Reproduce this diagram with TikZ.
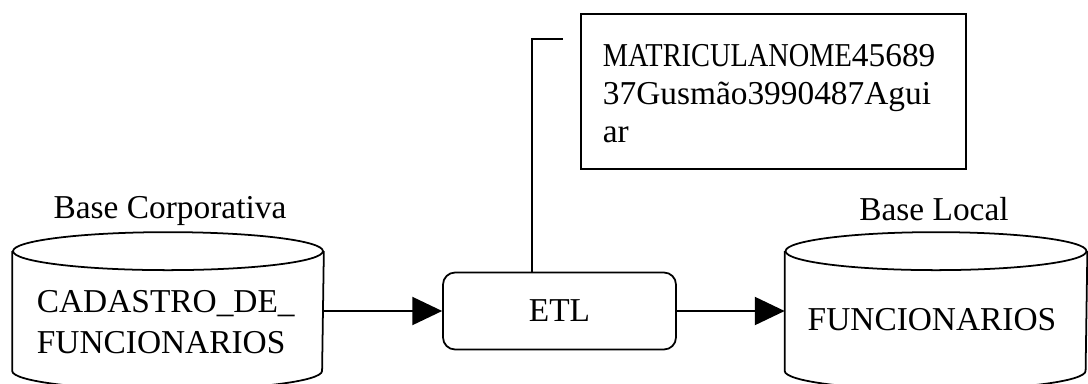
\documentclass[tikz,border=0pt]{standalone}
\usepackage{fontspec}
\setmainfont{Liberation Serif}
\usepackage{graphicx}
\usetikzlibrary{arrows.meta}
\usetikzlibrary{positioning}

\tikzset{
  dbbody/.style={draw=none, inner sep=0pt, minimum height=2.36cm},
  etlbox/.style={draw, line width=1pt, rounded corners=0.24cm, minimum width=4.66cm, minimum height=1.54cm, inner sep=0pt},
  regbox/.style={draw, line width=1pt, minimum width=7.7cm, minimum height=3.1cm, inner sep=0pt},
  flow/.style={line width=1pt, -{Triangle[length=17pt,width=16pt]}},
  bigtext/.style={font=\fontsize{19}{23.3}\selectfont, inner sep=0pt},
}

\begin{document}
\begin{tikzpicture}[x=0.02cm, y=0.02cm, line width=1pt]
    \useasboundingbox (0,0) rectangle (1088,383);

    % base corporativa
    \node [dbbody, minimum width=6.2cm] (corp) at (168,72) {};
    \draw (corp.north west) -- (corp.south west)
      arc [start angle=180, end angle=360, x radius=3.1cm, y radius=0.38cm]
      -- (corp.north east);
    \draw (corp.north) ellipse [x radius=3.1cm, y radius=0.38cm];
    \node [bigtext, anchor=base west, align=left] (cadtxt) at (36,30) {CADASTRO\_DE\_\\FUNCIONARIOS};
    \node [bigtext, anchor=base] (corplabel) at (170,165) {Base Corporativa};

    % base local
    \node [dbbody, minimum width=6.02cm] (loc) at (936,72) {};
    \draw (loc.north west) -- (loc.south west)
      arc [start angle=180, end angle=360, x radius=3.01cm, y radius=0.38cm]
      -- (loc.north east);
    \draw (loc.north) ellipse [x radius=3.01cm, y radius=0.38cm];
    \node [bigtext, anchor=base] (loctxt) at (932,53) {FUNCIONARIOS};
    \node [bigtext, anchor=base] (loclabel) at (934,163) {Base Local};

    % etl
    \node [etlbox, bigtext] (etl) at (559.5,72) {ETL};

    \draw [flow] (corp.east) -- (etl.west);
    \draw [flow] (etl.east) -- (loc.west);

    % registro
    \node [regbox] (reg) at (773.5,291.5) {};
    \node [anchor=base west, align=left, inner sep=0pt, font=\fontsize{19}{21.6}\selectfont] (regtxt) at (602,241)
      {\scalebox{0.85}[1]{MATRICULANOME}45689\\37Gusmão3990487Agui\\ar};

    \coordinate (bend) at (532,344);
    \coordinate (tapend) at (563,344);
    \draw (etl.north -| bend) -- (bend) -- (tapend);

  \end{tikzpicture}
\end{document}
